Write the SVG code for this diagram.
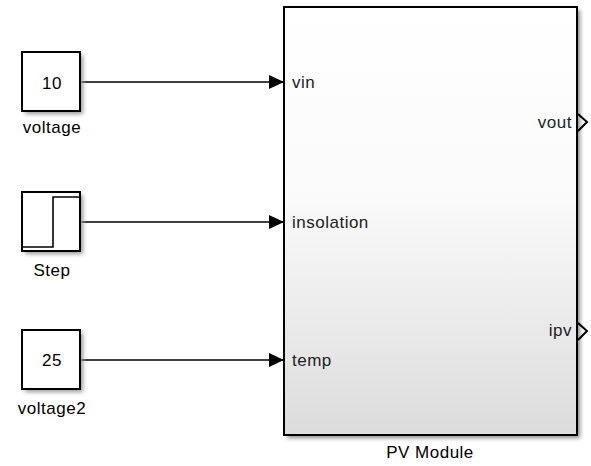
<svg xmlns="http://www.w3.org/2000/svg" width="591" height="466" viewBox="0 0 591 466">
<defs>
<style>
.blk{fill:#fff;stroke:#000;stroke-width:2}
.lbl{font-family:"Liberation Sans",Arial,sans-serif;font-size:17px;letter-spacing:0.5px;fill:#000}
.port{font-family:"Liberation Sans",Arial,sans-serif;font-size:17px;letter-spacing:0.5px;fill:#222}
.wire{stroke:#000;stroke-width:1.6;fill:none}
</style>
<linearGradient id="g" x1="0" y1="0" x2="0" y2="1">
<stop offset="0" stop-color="#ffffff"/>
<stop offset="0.45" stop-color="#fafafa"/>
<stop offset="1" stop-color="#dcdcdc"/>
</linearGradient>
<filter id="sh" x="-10%" y="-10%" width="130%" height="130%">
<feGaussianBlur stdDeviation="2"/>
</filter>
<marker id="ar" markerWidth="15" markerHeight="14" refX="15" refY="7" orient="auto" markerUnits="userSpaceOnUse">
<path d="M0,0 L15,7 L0,14 Z" fill="#000"/>
</marker>
</defs>
<g id="connectors">
<line class="wire" x1="80" y1="82" x2="284" y2="82" marker-end="url(#ar)"/>
<line class="wire" x1="80" y1="222" x2="284" y2="222" marker-end="url(#ar)"/>
<line class="wire" x1="80" y1="360" x2="284" y2="360" marker-end="url(#ar)"/>
</g>
<g id="voltage">
<rect x="25" y="55" width="58" height="59" fill="#999" filter="url(#sh)"/>
<rect class="blk" x="22" y="52" width="58" height="59"/>
<text class="lbl" x="52" y="89" text-anchor="middle">10</text>
<text class="lbl" x="52" y="133" text-anchor="middle">voltage</text>
</g>
<g id="step">
<rect x="25" y="195" width="58" height="59" fill="#999" filter="url(#sh)"/>
<rect class="blk" x="22" y="192" width="58" height="59"/>
<polyline class="wire" points="22,247 53,247 53,197 80,197" stroke-width="1.8"/>
<text class="lbl" x="52" y="276" text-anchor="middle">Step</text>
</g>
<g id="voltage2">
<rect x="25" y="333" width="58" height="59" fill="#999" filter="url(#sh)"/>
<rect class="blk" x="22" y="330" width="58" height="59"/>
<text class="lbl" x="52" y="366" text-anchor="middle">25</text>
<text class="lbl" x="52" y="414" text-anchor="middle">voltage2</text>
</g>
<g id="pv">
<rect x="287" y="10" width="293" height="428" fill="#888" filter="url(#sh)"/>
<rect x="284" y="7" width="293" height="428" fill="url(#g)" stroke="#000" stroke-width="2"/>
<text class="port" x="292" y="88">vin</text>
<text class="port" x="292" y="228">insolation</text>
<text class="port" x="292" y="366">temp</text>
<text class="port" x="572" y="128" text-anchor="end">vout</text>
<text class="port" x="572" y="336" text-anchor="end">ipv</text>
<polyline points="578,114 587,122 578,131" fill="none" stroke="#000" stroke-width="2"/>
<polyline points="578,323 587,331 578,340" fill="none" stroke="#000" stroke-width="2"/>
<text class="lbl" x="430" y="458" text-anchor="middle">PV Module</text>
</g>
</svg>
